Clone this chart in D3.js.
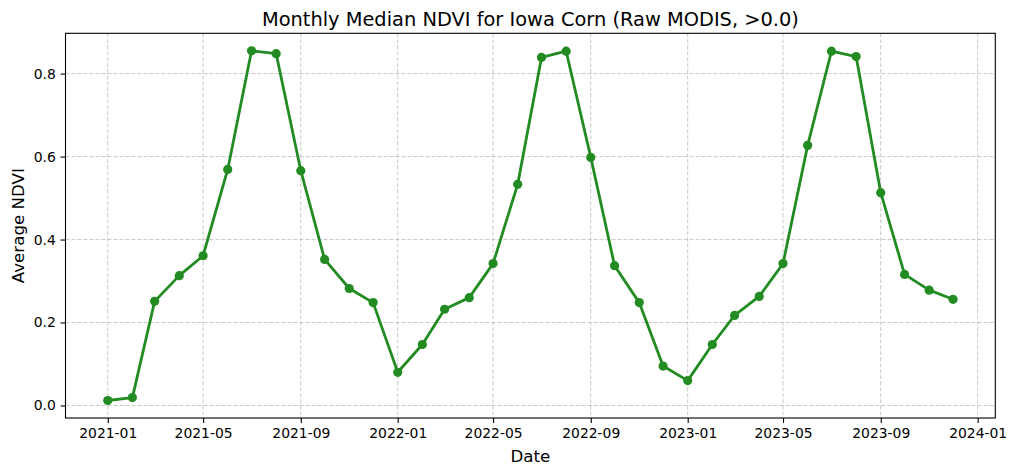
<!DOCTYPE html>
<html>
<head>
<meta charset="utf-8">
<script src="https://cdn.jsdelivr.net/npm/d3@7"></script>
<style>
  body { margin: 0; background: #fff; }
  svg { font-family: 'DejaVu Sans', sans-serif; }
</style>
</head>
<body>
<div id="chart"></div>
<script>
// Monthly median NDVI, one value per month from 2021-01 to 2023-12.
const months = [
  '2021-01', '2021-02', '2021-03', '2021-04', '2021-05', '2021-06',
  '2021-07', '2021-08', '2021-09', '2021-10', '2021-11', '2021-12',
  '2022-01', '2022-02', '2022-03', '2022-04', '2022-05', '2022-06',
  '2022-07', '2022-08', '2022-09', '2022-10', '2022-11', '2022-12',
  '2023-01', '2023-02', '2023-03', '2023-04', '2023-05', '2023-06',
  '2023-07', '2023-08', '2023-09', '2023-10', '2023-11', '2023-12'
];
const ndvi = [
  0.012, 0.019, 0.251, 0.313, 0.361, 0.569,
  0.855, 0.848, 0.566, 0.352, 0.282, 0.248,
  0.080, 0.147, 0.232, 0.260, 0.342, 0.533,
  0.839, 0.854, 0.598, 0.337, 0.248, 0.095,
  0.060, 0.147, 0.217, 0.263, 0.342, 0.627,
  0.854, 0.841, 0.513, 0.316, 0.278, 0.256
];
const xTicks = ['2021-01', '2021-05', '2021-09', '2022-01', '2022-05', '2022-09',
                '2023-01', '2023-05', '2023-09', '2024-01'];
const yTicks = [0.0, 0.2, 0.4, 0.6, 0.8];

const parse = d3.utcParse('%Y-%m');
const data = months.map((m, i) => ({date: parse(m), value: ndvi[i]}));

const fullWidth = 1016;
const fullHeight = 475;
const margins = {top: 33.3, right: 20.7, bottom: 57, left: 65.5};
const width = fullWidth - margins.left - margins.right;
const height = fullHeight - margins.top - margins.bottom;

const svg = d3.select('#chart').append('svg')
  .attr('width', fullWidth)
  .attr('height', fullHeight);

const g = svg.append('g')
  .attr('transform', `translate(${margins.left}, ${margins.top})`);

// Scales with matplotlib-like 5% padding.
const t0 = data[0].date, t1 = data[data.length - 1].date;
const padT = (t1 - t0) * 0.05;
const x = d3.scaleUtc()
  .domain([new Date(+t0 - padT), new Date(+t1 + padT)])
  .range([0, width]);

const yMin = d3.min(ndvi), yMax = d3.max(ndvi);
const padY = (yMax - yMin) * 0.05;
const y = d3.scaleLinear()
  .domain([yMin - padY, yMax + padY])
  .range([height, 0]);

// Grid
const grid = g.append('g').attr('class', 'grid');
grid.selectAll('.vgrid')
  .data(xTicks.map(parse))
  .enter().append('line')
  .attr('x1', d => x(d)).attr('x2', d => x(d))
  .attr('y1', 0).attr('y2', height)
  .attr('stroke', '#b0b0b0').attr('stroke-opacity', 0.7)
  .attr('stroke-width', 1).attr('stroke-dasharray', '4,2');
grid.selectAll('.hgrid')
  .data(yTicks)
  .enter().append('line')
  .attr('x1', 0).attr('x2', width)
  .attr('y1', d => y(d)).attr('y2', d => y(d))
  .attr('stroke', '#b0b0b0').attr('stroke-opacity', 0.7)
  .attr('stroke-width', 1).attr('stroke-dasharray', '4,2');

// Axes
const xAxis = d3.axisBottom(x)
  .tickValues(xTicks.map(parse))
  .tickFormat(d3.utcFormat('%Y-%m'))
  .tickSizeInner(4.9).tickSizeOuter(0).tickPadding(4.8);
const yAxis = d3.axisLeft(y)
  .tickValues(yTicks)
  .tickFormat(d3.format('.1f'))
  .tickSizeInner(4.9).tickSizeOuter(0).tickPadding(4.8);

const gx = g.append('g')
  .attr('transform', `translate(0, ${height})`)
  .call(xAxis);
const gy = g.append('g').call(yAxis);

[gx, gy].forEach(a => {
  a.select('.domain').remove();
  a.selectAll('.tick line').attr('stroke', '#000').attr('stroke-width', 1.1);
  a.selectAll('.tick text')
    .attr('fill', '#000')
    .style('font-family', "'DejaVu Sans', sans-serif")
    .style('font-size', '13.9px');
});

// Frame
g.append('rect')
  .attr('x', 0).attr('y', 0)
  .attr('width', width).attr('height', height)
  .attr('fill', 'none')
  .attr('stroke', '#000')
  .attr('stroke-width', 1.1);

// Line and markers
const line = d3.line()
  .x(d => x(d.date))
  .y(d => y(d.value));

g.append('path')
  .datum(data)
  .attr('d', line)
  .attr('fill', 'none')
  .attr('stroke', '#228B22')
  .attr('stroke-width', 2.8)
  .attr('stroke-linejoin', 'round');

g.selectAll('.pt')
  .data(data)
  .enter().append('circle')
  .attr('class', 'pt')
  .attr('cx', d => x(d.date))
  .attr('cy', d => y(d.value))
  .attr('r', 4.6)
  .attr('fill', '#228B22');

// Labels
svg.append('text')
  .attr('x', margins.left + width / 2)
  .attr('y', 25.5)
  .attr('text-anchor', 'middle')
  .style('font-size', '19.4px')
  .text('Monthly Median NDVI for Iowa Corn (Raw MODIS, >0.0)');

svg.append('text')
  .attr('x', margins.left + width / 2)
  .attr('y', 462)
  .attr('text-anchor', 'middle')
  .style('font-size', '16.7px')
  .text('Date');

svg.append('text')
  .attr('transform', `translate(23.5, ${margins.top + height / 2}) rotate(-90)`)
  .attr('text-anchor', 'middle')
  .style('font-size', '16.7px')
  .text('Average NDVI');
</script>
</body>
</html>
